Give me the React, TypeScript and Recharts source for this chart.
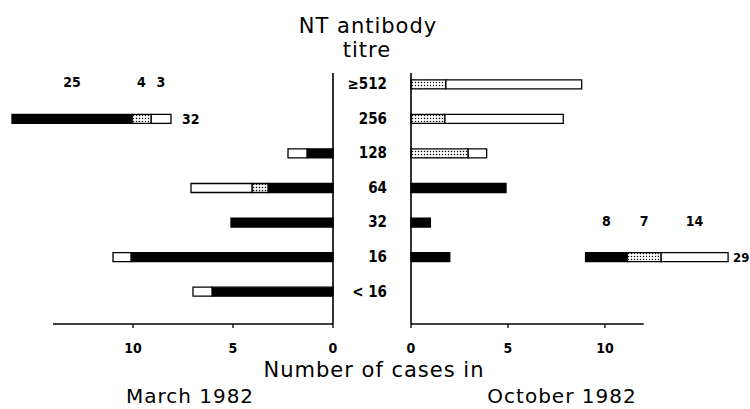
import { BarChart, Bar, XAxis, YAxis, ReferenceLine, LabelList } from 'recharts';

// titre classes, top row first (numeric y position = index, increasing downward)
const titres = ['≥512', '256', '128', '64', '32', '16', '< 16'];

// March 1982 (left panel), bar lengths in cases as drawn
const marchBlack = [0, 0, 1.3, 3.25, 5.1, 10.1, 6.05];
const marchDotted = [0, 0, 0, 0.8, 0, 0, 0];
const marchWhite = [0, 0, 0.95, 3.05, 0, 0.9, 0.95];

// March inset bar (not to scale) on the 256 row
const marchInsetRow = 1;
const marchInsetStart = 8.1;
const marchInsetLengths = [6.0, 0.95, 1.0]; // black, dotted, white
const marchInsetCounts = [25, 4, 3];
const marchInsetTotal = 32;

// October 1982 (right panel)
const octBlack = [0, 0, 0, 4.9, 1.0, 2.0, 0];
const octDotted = [1.8, 1.75, 2.95, 0, 0, 0, 0];
const octWhite = [7.0, 6.1, 0.95, 0, 0, 0, 0];

// October inset bar (not to scale) on the 16 row
const octInsetRow = 5;
const octInsetStart = 9.0;
const octInsetLengths = [2.15, 1.75, 3.45];
const octInsetCounts = [8, 7, 14];
const octInsetTotal = 29;

const caseTicks = [0, 5, 10];

const buildRows = (
  black: number[],
  dotted: number[],
  white: number[],
  insetRow: number,
  insetStart: number,
  insetLengths: number[],
  insetCounts: number[],
  insetTotal: number
) =>
  titres.map((titre, i) => {
    const inset = i === insetRow;
    const base = black[i] + dotted[i] + white[i];
    return {
      idx: i,
      titre,
      black: black[i],
      dotted: dotted[i],
      white: white[i],
      gap: inset ? insetStart - base : 0,
      iBlack: inset ? insetLengths[0] : 0,
      iDotted: inset ? insetLengths[1] : 0,
      iWhite: inset ? insetLengths[2] : 0,
      lBlack: inset ? insetCounts[0] : null,
      lDotted: inset ? insetCounts[1] : null,
      lWhite: inset ? insetCounts[2] : null,
      lTotal: inset ? insetTotal : null,
    };
  });

const marchRows = buildRows(marchBlack, marchDotted, marchWhite, marchInsetRow, marchInsetStart, marchInsetLengths, marchInsetCounts, marchInsetTotal);
const octRows = buildRows(octBlack, octDotted, octWhite, octInsetRow, octInsetStart, octInsetLengths, octInsetCounts, octInsetTotal);

const narrow = "'DejaVu Sans Condensed', 'Liberation Sans Narrow', Arial, sans-serif";
const titleFont = "'DejaVu Sans', sans-serif";
const yDomain = [-0.32, 6.94];
const rowTicks = titres.map((_, i) => i);

const rectOf = (props: any) => {
  const vb = props.viewBox || props;
  const x1 = Math.min(vb.x, vb.x + vb.width);
  const x2 = Math.max(vb.x, vb.x + vb.width);
  const y1 = Math.min(vb.y, vb.y + vb.height);
  const y2 = Math.max(vb.y, vb.y + vb.height);
  return { x1, x2, y1, y2 };
};

const TopLabel = (props: any) => {
  if (props.value == null) return null;
  const { x1, x2, y1 } = rectOf(props);
  return (
    <text x={(x1 + x2) / 2} y={y1 - 32} textAnchor="middle" dominantBaseline="central"
      fontFamily={narrow} fontSize={14} fontWeight="bold" fill="#000">
      {props.value}
    </text>
  );
};

const SideLabel = (props: any) => {
  if (props.value == null) return null;
  const { x2, y1, y2 } = rectOf(props);
  return (
    <text x={x2 + props.dx} y={(y1 + y2) / 2} dominantBaseline="central"
      fontFamily={narrow} fontSize={props.size || 14} fontWeight="bold" fill="#000">
      {props.value}
    </text>
  );
};

const TitreTick = ({ x, y, payload }: any) => (
  <text x={x} y={y} textAnchor="end" dominantBaseline="central"
    fontFamily={narrow} fontSize={15} fontWeight="bold" fill="#000">
    {titres[payload.value]}
  </text>
);

const Dots = ({ id }: { id: string }) => (
  <defs>
    <pattern id={id} width="3" height="3" patternUnits="userSpaceOnUse">
      <rect width="3" height="3" fill="#fff" />
      <circle cx="1.5" cy="1.5" r="0.75" fill="#000" />
    </pattern>
  </defs>
);

const segStyle = { stroke: '#000', strokeWidth: 1.3 };
const xTick = { fill: '#000', fontSize: 14, fontWeight: 'bold', fontFamily: narrow };

export default function App() {
  return (
    <div style={{ position: 'absolute', left: 0, top: 0, width: 750, height: 409, background: '#fff', overflow: 'hidden' }}>
      {/* March 1982 */}
      <div style={{ position: 'absolute', left: 0, top: 0 }}>
        <BarChart width={400} height={409} layout="vertical" data={marchRows} barSize={9}
          margin={{ top: 73, right: 7, bottom: 55, left: 7 }}>
          <Dots id="dotsMarch" />
          <XAxis type="number" reversed domain={[0, 16.3]} ticks={caseTicks} axisLine={false}
            tickSize={4} tickMargin={15} height={30} tick={xTick} tickLine={{ stroke: '#000', strokeWidth: 1.3 }} />
          <YAxis type="number" dataKey="idx" orientation="right" domain={yDomain} ticks={rowTicks}
            width={60} tickSize={0} tickMargin={54} tick={<TitreTick />} tickLine={false}
            axisLine={{ stroke: '#000', strokeWidth: 1.6 }} />
          <ReferenceLine segment={[{ x: 0, y: yDomain[1] }, { x: 14, y: yDomain[1] }]} stroke="#000" strokeWidth={1.6} />
          <Bar dataKey="black" stackId="m" fill="#000" {...segStyle} isAnimationActive={false} />
          <Bar dataKey="dotted" stackId="m" fill="url(#dotsMarch)" {...segStyle} isAnimationActive={false} />
          <Bar dataKey="white" stackId="m" fill="#fff" {...segStyle} isAnimationActive={false} />
          <Bar dataKey="gap" stackId="m" fill="transparent" stroke="none" isAnimationActive={false} />
          <Bar dataKey="iWhite" stackId="m" fill="#fff" {...segStyle} isAnimationActive={false}>
            <LabelList dataKey="lWhite" content={<TopLabel />} />
            <LabelList dataKey="lTotal" content={<SideLabel dx={11} />} />
          </Bar>
          <Bar dataKey="iDotted" stackId="m" fill="url(#dotsMarch)" {...segStyle} isAnimationActive={false}>
            <LabelList dataKey="lDotted" content={<TopLabel />} />
          </Bar>
          <Bar dataKey="iBlack" stackId="m" fill="#000" {...segStyle} isAnimationActive={false}>
            <LabelList dataKey="lBlack" content={<TopLabel />} />
          </Bar>
        </BarChart>
      </div>

      {/* October 1982 */}
      <div style={{ position: 'absolute', left: 0, top: 0 }}>
        <BarChart width={750} height={409} layout="vertical" data={octRows} barSize={9}
          margin={{ top: 73, right: 19, bottom: 55, left: 401 }}>
          <Dots id="dotsOct" />
          <XAxis type="number" domain={[0, 16.5]} ticks={caseTicks} axisLine={false}
            tickSize={4} tickMargin={15} height={30} tick={xTick} tickLine={{ stroke: '#000', strokeWidth: 1.3 }} />
          <YAxis type="number" dataKey="idx" orientation="left" domain={yDomain} ticks={rowTicks}
            width={10} tick={false} tickLine={false} axisLine={{ stroke: '#000', strokeWidth: 1.6 }} />
          <ReferenceLine segment={[{ x: 0, y: yDomain[1] }, { x: 12, y: yDomain[1] }]} stroke="#000" strokeWidth={1.6} />
          <Bar dataKey="black" stackId="o" fill="#000" {...segStyle} isAnimationActive={false} />
          <Bar dataKey="dotted" stackId="o" fill="url(#dotsOct)" {...segStyle} isAnimationActive={false} />
          <Bar dataKey="white" stackId="o" fill="#fff" {...segStyle} isAnimationActive={false} />
          <Bar dataKey="gap" stackId="o" fill="transparent" stroke="none" isAnimationActive={false} />
          <Bar dataKey="iBlack" stackId="o" fill="#000" {...segStyle} isAnimationActive={false}>
            <LabelList dataKey="lBlack" content={<TopLabel />} />
          </Bar>
          <Bar dataKey="iDotted" stackId="o" fill="url(#dotsOct)" {...segStyle} isAnimationActive={false}>
            <LabelList dataKey="lDotted" content={<TopLabel />} />
          </Bar>
          <Bar dataKey="iWhite" stackId="o" fill="#fff" {...segStyle} isAnimationActive={false}>
            <LabelList dataKey="lWhite" content={<TopLabel />} />
            <LabelList dataKey="lTotal" content={<SideLabel dx={5} size={13} />} />
          </Bar>
        </BarChart>
      </div>

      {/* titles */}
      <svg width={750} height={409} style={{ position: 'absolute', left: 0, top: 0, pointerEvents: 'none' }}>
        <g fontFamily={titleFont} fontSize={21} fill="#000" letterSpacing={1}>
          <text x={368} y={33} textAnchor="middle">NT antibody</text>
          <text x={367} y={57} textAnchor="middle">titre</text>
          <text x={374} y={377} textAnchor="middle">Number of cases in</text>
          <text x={190} y={403} textAnchor="middle" fontSize={20}>March 1982</text>
          <text x={562} y={403} textAnchor="middle" fontSize={20}>October 1982</text>
        </g>
      </svg>
    </div>
  );
}
